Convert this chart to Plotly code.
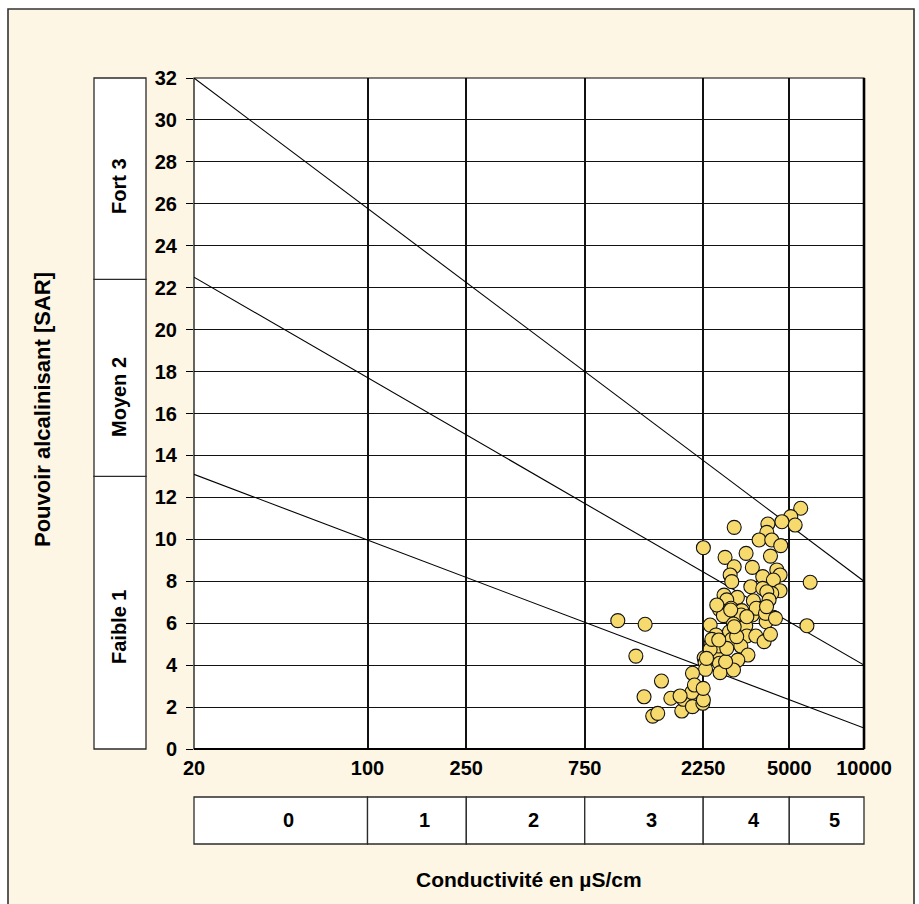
import math
import plotly.graph_objects as go

# Conductivity (µS/cm) and SAR of the sampled waters
conductivity = [
    5560, 5070, 5280, 4670, 4100, 4060, 3780, 4250, 4620, 3000,
    2254, 2756, 3350, 4200, 3550, 3000, 2890, 2933, 4454, 4592,
    3910, 4315, 3500, 3910, 4592, 4250, 4060, 2730, 3090, 3584,
    4146, 2800, 2617, 2915, 3219, 3875, 2714, 3199, 3550, 4315,
    4035, 5890, 6070, 2400, 2980, 3340, 2870, 2535, 2933, 3373,
    3666, 3960, 4200, 2420, 2530, 3190, 3408, 2270, 2632, 3102,
    2290, 2617, 2300, 2632, 2980, 2770, 1019, 1313, 1205, 1528,
    1300, 1667, 2037, 1409, 1476, 1845, 1872, 2037, 2243, 2173,
    2025, 2254, 2075, 1816, 2594, 2400, 2800, 3680, 2438, 3070,
    3373, 4010, 2553, 2904, 4050, 4400, 3000, 2600, 2250, 2320,
]
sar = [
    11.48, 11.08, 10.68, 10.84, 10.73, 10.33, 9.97, 9.97, 9.70, 10.57,
    9.60, 9.14, 9.33, 9.20, 8.66, 8.69, 8.30, 7.98, 8.54, 8.30,
    8.22, 8.06, 7.74, 7.66, 7.55, 7.42, 7.50, 7.34, 7.23, 7.07,
    7.11, 7.11, 6.66, 6.71, 6.60, 6.71, 6.36, 6.39, 6.39, 6.28,
    6.07, 5.88, 7.95, 5.91, 5.96, 5.87, 5.59, 5.44, 5.23, 5.39,
    5.39, 5.12, 5.47, 5.01, 5.16, 4.91, 4.48, 4.35, 4.48, 4.24,
    4.12, 4.09, 3.80, 3.64, 3.77, 4.16, 6.12, 5.95, 4.43, 3.24,
    2.49, 2.42, 3.61, 1.57, 1.70, 1.81, 2.37, 2.02, 2.18, 2.85,
    2.70, 2.34, 3.05, 2.53, 4.91, 4.75, 4.80, 6.71, 5.23, 5.36,
    6.31, 6.47, 6.87, 6.63, 6.79, 6.23, 5.83, 5.20, 2.89, 4.32,
]

# Salinity classes along the conductivity axis
cond_bounds = [20, 100, 250, 750, 2250, 5000, 10000]
cond_classes = ["0", "1", "2", "3", "4", "5"]

# Alkalinity hazard classes along the SAR axis
sar_bounds = [0, 13, 22.4, 32]
sar_classes = ["Faible 1", "Moyen 2", "Fort 3"]

# Class separation lines: SAR at 20 µS/cm and at 10000 µS/cm
line_x = [20, 10000]
sep_lines = [[13.1, 1.0], [22.5, 4.0], [32.0, 8.0]]

y_ticks = list(range(0, 33, 2))
x_tick_labels = ["20", "100", "250", "750", "2250", "5000", "10000"]

W, H = 919, 904
L, R, T, B = 194, 864, 78, 749
PW, PH = R - L, B - T
LX0, LX1 = math.log10(20), 4.0


def px_x(px):
    return (px - L) / PW


def px_y(py):
    return (B - py) / PH


def cond_paper(v):
    return (math.log10(v) - LX0) / (LX1 - LX0)


FONT = "Liberation Sans"
EDGE = "#2b2b2b"

fig = go.Figure()

for y0, y1 in sep_lines:
    fig.add_trace(go.Scatter(
        x=line_x, y=[y0, y1], mode="lines",
        line=dict(color="black", width=1.1),
        hoverinfo="skip", showlegend=False,
    ))

fig.add_trace(go.Scatter(
    x=conductivity, y=sar, mode="markers",
    marker=dict(size=14, color="#F7DA6E", line=dict(color="#111", width=1.1)),
    showlegend=False,
))

shapes = []
# cream frame
shapes.append(dict(type="rect", xref="paper", yref="paper",
                   x0=px_x(8), x1=px_x(914), y0=px_y(915), y1=px_y(9),
                   fillcolor="#FEF6E4", line=dict(color="#333", width=1.6),
                   layer="below"))
# plot area
shapes.append(dict(type="rect", xref="paper", yref="paper",
                   x0=0, x1=1, y0=0, y1=1, fillcolor="white",
                   line=dict(width=0), layer="below"))
# SAR class boxes
for lo, hi in zip(sar_bounds[:-1], sar_bounds[1:]):
    shapes.append(dict(type="rect", xref="paper", yref="paper",
                       x0=px_x(94), x1=px_x(146), y0=lo / 32, y1=hi / 32,
                       fillcolor="white", line=dict(color=EDGE, width=1.3),
                       layer="below"))
# conductivity class boxes
for lo, hi in zip(cond_bounds[:-1], cond_bounds[1:]):
    shapes.append(dict(type="rect", xref="paper", yref="paper",
                       x0=cond_paper(lo), x1=cond_paper(hi),
                       y0=px_y(844), y1=px_y(797),
                       fillcolor="white", line=dict(color=EDGE, width=1.3),
                       layer="below"))
# plot border, heavier on the right and bottom
shapes.append(dict(type="rect", xref="paper", yref="paper",
                   x0=0, x1=1, y0=0, y1=1, line=dict(color="black", width=1.2),
                   layer="above"))
shapes.append(dict(type="line", xref="paper", yref="paper",
                   x0=1, x1=1, y0=0, y1=1, line=dict(color="black", width=2.6),
                   layer="above"))
shapes.append(dict(type="line", xref="paper", yref="paper",
                   x0=0, x1=1, y0=0, y1=0, line=dict(color="black", width=2),
                   layer="above"))


def label(text, x, y, size, angle=0, xshift=0):
    return dict(
        text=text, xref="paper", yref="paper", x=x, y=y, xshift=xshift,
        xanchor="center", yanchor="middle", textangle=angle, showarrow=False,
        font=dict(family=FONT, size=size, color="black", weight="bold"),
    )


annotations = []
label_y = {"Fort 3": 186, "Moyen 2": 397, "Faible 1": 627}
for name in sar_classes:
    annotations.append(label(name, px_x(119), px_y(label_y[name]), 20, angle=-90))
for lo, hi, name in zip(cond_bounds[:-1], cond_bounds[1:], cond_classes):
    xm = (cond_paper(lo) + cond_paper(hi)) / 2
    annotations.append(label(name, xm, px_y(820), 20, xshift=8))
annotations.append(label("Pouvoir alcalinisant [SAR]", px_x(42), px_y(410), 22, angle=-90))
annotations.append(label("Conductivité en µS/cm", px_x(529), px_y(880), 21))

fig.update_layout(
    width=W, height=H,
    margin=dict(l=L, r=W - R, t=T, b=H - B, pad=0),
    paper_bgcolor="white", plot_bgcolor="white",
    shapes=shapes, annotations=annotations,
    xaxis=dict(
        type="log", range=[LX0, LX1],
        tickmode="array", tickvals=cond_bounds, ticktext=x_tick_labels,
        showgrid=True, gridcolor="#111", gridwidth=1.8,
        ticks="", showline=False, zeroline=False,
        ticklabelstandoff=5,
        tickfont=dict(family=FONT, size=20, color="black", weight="bold"),
    ),
    yaxis=dict(
        range=[0, 32], tickmode="array", tickvals=y_ticks,
        showgrid=True, gridcolor="#111", gridwidth=1.2,
        ticks="outside", ticklen=7, tickwidth=1.2, tickcolor="black",
        showline=False, zeroline=False, ticklabelstandoff=5,
        tickfont=dict(family=FONT, size=20, color="black", weight="bold"),
    ),
)

fig.write_html("out.html")
